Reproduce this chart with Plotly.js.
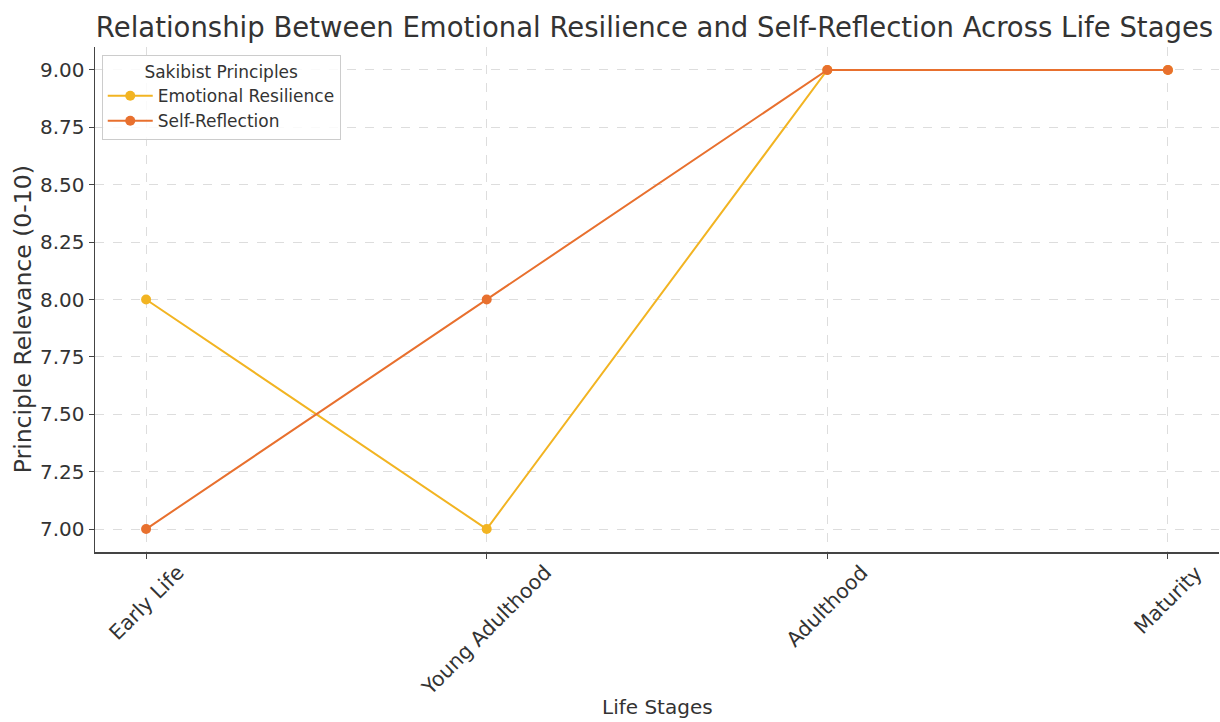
<!DOCTYPE html>
<html>
<head>
<meta charset="utf-8">
<script src="https://cdn.plot.ly/plotly-3.0.1.min.js"></script>
<style>html,body{margin:0;padding:0;background:#fff;}#chart{width:1220px;height:722px;}</style>
</head>
<body>
<div id="chart"></div>
<script>
const stages = ["Early Life", "Young Adulthood", "Adulthood", "Maturity"];
const emotionalResilience = [8, 7, 9, 9];
const selfReflection = [7, 8, 9, 9];
const yTicks = [7.00, 7.25, 7.50, 7.75, 8.00, 8.25, 8.50, 8.75, 9.00];

const font = "DejaVu Sans, sans-serif";
const txt = "#333";
const traces = [
  {x: stages, y: emotionalResilience, name: "Emotional Resilience", mode: "lines+markers",
   line: {color: "#f2b422", width: 2}, marker: {color: "#f2b422", size: 10}},
  {x: stages, y: selfReflection, name: "Self-Reflection", mode: "lines+markers",
   line: {color: "#e8702e", width: 2}, marker: {color: "#e8702e", size: 10}}
];

// x tick labels: rotated 45°, centred under each tick (as in the reference)
const tickAnnotations = stages.map(s => ({
  text: s, x: s, xref: "x", y: 0, yref: "paper", yshift: -6,
  xanchor: "center", yanchor: "top", textangle: -45, showarrow: false,
  font: {size: 20.5, color: txt, family: font}
}));

const layout = {
  width: 1220, height: 722,
  margin: {l: 95, r: 1, t: 47, b: 170},
  paper_bgcolor: "#fff", plot_bgcolor: "#fff",
  font: {family: font, color: txt},
  title: {text: "Relationship Between Emotional Resilience and Self-Reflection Across Life Stages",
          font: {size: 27.5, color: txt, family: font}, x: 0.5365, xanchor: "center", y: 0.962, yanchor: "middle", yref: "container"},
  xaxis: {type: "category", range: [-0.15, 3.15], showticklabels: false,
          ticks: "outside", ticklen: 5, tickcolor: "#444", showline: true, linecolor: "#444", linewidth: 1.5,
          showgrid: true, gridcolor: "#ddd", griddash: "dash", gridwidth: 1, zeroline: false},
  yaxis: {range: [6.9, 9.1], tickvals: yTicks, ticktext: yTicks.map(v => v.toFixed(2)),
          tickfont: {size: 20, color: txt}, ticks: "outside", ticklen: 5, tickcolor: "#444",
          showline: true, linecolor: "#444", linewidth: 1.5,
          showgrid: true, gridcolor: "#ddd", griddash: "dash", gridwidth: 1, zeroline: false},
  annotations: tickAnnotations.concat([
    {text: "Principle Relevance (0-10)", textangle: -90, xref: "paper", yref: "paper",
     x: -0.064, y: 0.461, xanchor: "center", yanchor: "middle", showarrow: false,
     font: {size: 23.5, color: txt, family: font}},
    {text: "Life Stages", xref: "paper", yref: "paper",
     x: 0.5, y: -0.306, xanchor: "center", yanchor: "middle", showarrow: false,
     font: {size: 20, color: txt, family: font}}
  ]),
  legend: {x: 0.006, y: 0.984, xanchor: "left", yanchor: "top",
           bgcolor: "rgba(255,255,255,0.85)", bordercolor: "#ccc", borderwidth: 1,
           font: {size: 17, color: txt}, itemwidth: 45,
           title: {text: "Sakibist Principles", font: {size: 17, color: txt}, side: "top center"}},
  showlegend: true
};
Plotly.newPlot("chart", traces, layout, {displayModeBar: false, staticPlot: true});
</script>
</body>
</html>
